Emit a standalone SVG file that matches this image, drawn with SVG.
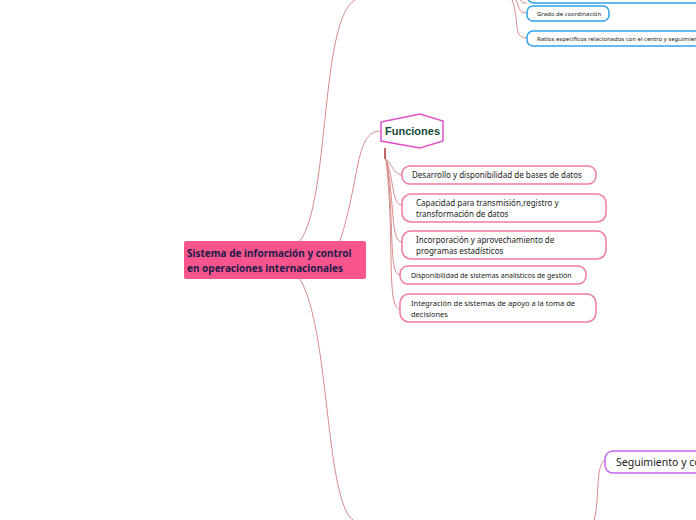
<svg xmlns="http://www.w3.org/2000/svg" width="696" height="520" viewBox="0 0 696 520">
<style>
.c{fill:none;stroke:#d98a8a;stroke-width:1}
.f{fill:#fff;stroke:#f07aa5;stroke-width:1.5}
.b{fill:#fff;stroke:#2ea3ea;stroke-width:1.5}
.t{font-family:"Noto Sans","Open Sans",sans-serif;fill:#222}
</style>
<rect width="696" height="520" fill="#fff"/>
<g id="connectors">
<path class="c" d="M300,241 C330,200 320,20 355,0"/>
<path class="c" d="M340,241 C360,180 355,131 380,131"/>
<path class="c" d="M300,279 C330,330 325,500 353,520"/>
<path d="M385,148 V159" stroke="#9a1818" stroke-width="1.3" fill="none"/>
<path class="c" d="M386,159 C392,165 395,175 402,175"/>
<path class="c" d="M386,159 C394,180 392,205 402,205"/>
<path class="c" d="M386,159 C395,200 390,242 402,242"/>
<path class="c" d="M386,159 C395,220 388,275 400,275"/>
<path class="c" d="M386,159 C395,240 386,309 400,309"/>
<path class="c" d="M516,0 C520,8 518,13 527,13"/>
<path class="c" d="M512,0 C520,20 512,38 527,38"/>
<path class="c" d="M520,0 C522,3 524,3 527,3"/>
<path class="c" d="M605,460 C595,465 600,500 594,520"/>
</g>
<g id="main">
<rect x="184" y="241" width="182" height="38" rx="2" fill="#f7558c"/>
<text class="t" x="187" y="257" font-size="10" font-weight="bold" style="fill:#1c1c4a">Sistema de información y control</text>
<text class="t" x="187" y="272" font-size="10" font-weight="bold" style="fill:#1c1c4a">en operaciones internacionales</text>
</g>
<g id="funciones">
<path d="M381,122 L420,114 L443,121 L443,141 L420,148 L381,141 Z" fill="#fff" stroke="#e050c8" stroke-width="1.5"/>
<text x="385" y="135" font-family="Liberation Sans,Arial,sans-serif" font-size="11" font-weight="bold" fill="#154a36">Funciones</text>
</g>
<g id="n1">
<rect class="f" x="402" y="166" width="194" height="18" rx="8"/>
<text class="t" x="412" y="178" font-size="8">Desarrollo y disponibilidad de bases de datos</text>
</g>
<g id="n2">
<rect class="f" x="402" y="194" width="204" height="28" rx="9"/>
<text class="t" x="416" y="206" font-size="8">Capacidad para transmisión,registro y</text>
<text class="t" x="416" y="217" font-size="8">transformación de datos</text>
</g>
<g id="n3">
<rect class="f" x="402" y="231" width="204" height="28" rx="9"/>
<text class="t" x="416" y="243" font-size="8">Incorporación y aprovechamiento de</text>
<text class="t" x="416" y="254" font-size="8">programas estadísticos</text>
</g>
<g id="n4">
<rect class="f" x="400" y="266" width="186" height="18" rx="8"/>
<text class="t" x="411" y="278" font-size="7">Disponibilidad de sistemas analísticos de gestión</text>
</g>
<g id="n5">
<rect class="f" x="400" y="294" width="196" height="28" rx="9"/>
<text class="t" x="411" y="306" font-size="7.5">Integración de sistemas de apoyo a la toma de</text>
<text class="t" x="411" y="317" font-size="7.5">decisiones</text>
</g>
<g id="top">
<rect class="b" x="527" y="-20" width="190" height="23" rx="7"/>
</g>
<g id="grado">
<rect class="b" x="527" y="6" width="82" height="15" rx="6"/>
<text class="t" x="537" y="16" font-size="6">Grado de coordinación</text>
</g>
<g id="ratios">
<rect class="b" x="527" y="31" width="200" height="15" rx="6"/>
<text class="t" x="537" y="41" font-size="6">Ratios específicos relacionados con el centro y seguimiento</text>
</g>
<g id="seguimiento">
<rect x="605" y="451" width="110" height="22" rx="8" fill="#fff" stroke="#c468f0" stroke-width="1.5"/>
<text class="t" x="616" y="466" font-size="10.5">Seguimiento y control</text>
</g>
</svg>
